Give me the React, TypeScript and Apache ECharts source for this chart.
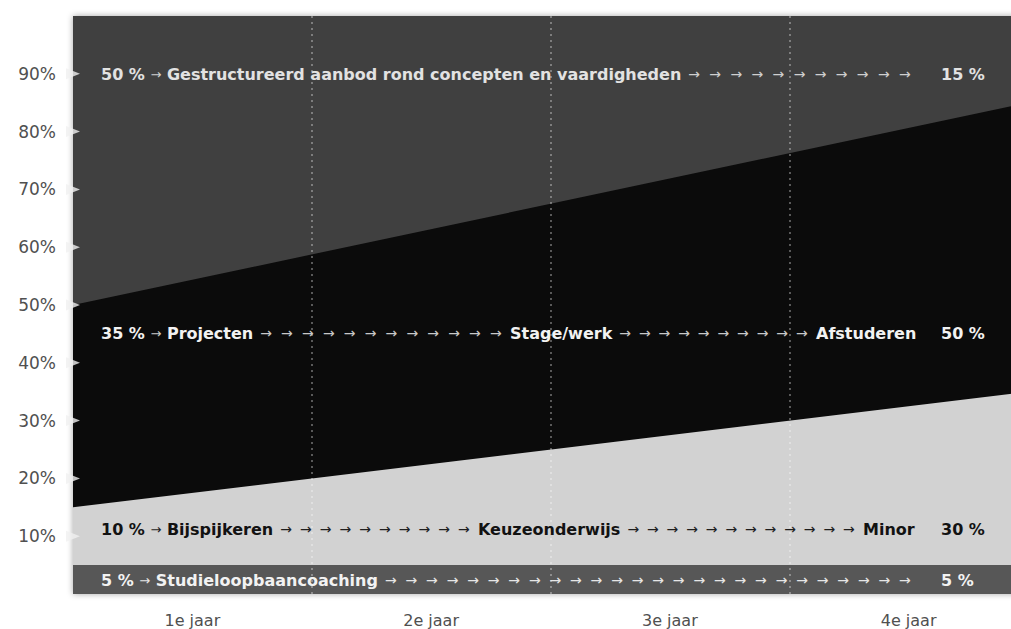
import React, { useEffect, useRef } from "react";
import * as echarts from "echarts";

// ---- data ----
const years = ["1e jaar", "2e jaar", "3e jaar", "4e jaar"];
// layers from bottom to top
const layerSegments = [
  ["Studieloopbaancoaching"],
  ["Bijspijkeren", "Keuzeonderwijs", "Minor"],
  ["Projecten", "Stage/werk", "Afstuderen"],
  ["Gestructureerd aanbod rond concepten en vaardigheden"],
];
const startShare = [5, 10, 35, 50]; // % at start of 1e jaar
const endShare = [5, 30, 50, 15]; // % at end of 4e jaar
const yTicks = [10, 20, 30, 40, 50, 60, 70, 80, 90];

// ---- styling / layout (not data) ----
const layerColors = ["#575757", "#d2d2d2", "#0b0b0b", "#404040"];
const textColors = ["#f2f2f2", "#121212", "#f2f2f2", "#e2e2e2"];
const arrowColors = ["#e6e6e6", "#1e1e1e", "#c8c8c8", "#cfcfcf"];
const rowLayout = [
  { y: 580, segX: [101] },
  { y: 529, segX: [101, 478, 863] },
  { y: 333, segX: [101, 510, 816] },
  { y: 74, segX: [101] },
];
const runEndX = 911;
const endLabelX = 941;
const FONT = '"DejaVu Sans", sans-serif';
const BOLD = `bold 16px ${FONT}`;
const SMALL_ARROW = `normal 13px ${FONT}`;
const RUN_ARROW = `normal 14px ${FONT}`;
const ARROW_W = 12;
const PITCH = 20.5;
const CHART_W = 1040;

function cumulative(arr: number[]) {
  const out: number[] = [];
  let s = 0;
  for (const v of arr) {
    s += v;
    out.push(s);
  }
  return out;
}

let ctx: CanvasRenderingContext2D | null = null;
function measure(text: string, font: string) {
  if (!ctx) ctx = document.createElement("canvas").getContext("2d");
  if (!ctx) return text.length * 10;
  ctx.font = font;
  return ctx.measureText(text).width;
}

function textStyle(text: string, fill: string, font: string, extra: any = {}) {
  return {
    text,
    fill,
    font,
    align: "left",
    verticalAlign: "middle",
    textAlign: "left",
    textVerticalAlign: "middle",
    ...extra,
  };
}

function buildGraphics() {
  const els: any[] = [];
  rowLayout.forEach((row, i) => {
    const segs = layerSegments[i];
    const ends: number[] = [];
    segs.forEach((seg, j) => {
      let width: number;
      let txt: string;
      if (j === 0) {
        const pre = `${startShare[i]} % `;
        const post = ` ${seg}`;
        txt = `${pre}{a|\u2192}${post}`;
        width = measure(pre, BOLD) + measure("\u2192", SMALL_ARROW) + measure(post, BOLD);
      } else {
        txt = seg;
        width = measure(seg, BOLD);
      }
      ends.push(row.segX[j] + width);
      els.push({
        type: "text",
        x: row.segX[j],
        y: row.y,
        z: 100,
        style: textStyle(txt, textColors[i], BOLD, {
          rich: {
            a: {
              fill: arrowColors[i],
              fontSize: 13,
              fontWeight: "normal",
              fontFamily: FONT,
            },
          },
        }),
      });
    });
    segs.forEach((_, j) => {
      const x1 = ends[j] + 7;
      const x2 = j + 1 < segs.length ? row.segX[j + 1] - 8 : runEndX;
      const span = x2 - ARROW_W - x1;
      if (span < 0) return;
      const n = Math.max(1, Math.round(span / PITCH) + 1);
      const step = n > 1 ? span / (n - 1) : 0;
      for (let k = 0; k < n; k++) {
        els.push({
          type: "text",
          x: x1 + k * step,
          y: row.y,
          z: 100,
          style: textStyle("\u2192", arrowColors[i], RUN_ARROW),
        });
      }
    });
    els.push({
      type: "text",
      x: endLabelX,
      y: row.y,
      z: 100,
      style: textStyle(`${endShare[i]} %`, textColors[i], BOLD),
    });
  });
  return els;
}

export default function App() {
  const ref = useRef<HTMLDivElement>(null);
  useEffect(() => {
    if (!ref.current) return;
    const chart = echarts.init(ref.current, null, { renderer: "svg" });
    const cumStart = cumulative(startShare);
    const cumEnd = cumulative(endShare);
    const areaSeries = layerColors
      .map((c, i) => ({
        type: "line",
        name: `layer${i}`,
        xAxisIndex: 1,
        yAxisIndex: 0,
        data: [
          [0, cumStart[i]],
          [1, cumEnd[i]],
        ],
        symbol: "none",
        lineStyle: { width: 0 },
        areaStyle: { color: c, opacity: 1, origin: "start" },
        z: 2,
        silent: true,
      }))
      .reverse();
    chart.setOption({
      animation: false,
      backgroundColor: "#ffffff",
      grid: {
        left: 73,
        top: 16,
        right: CHART_W - 1028,
        height: 578,
        show: true,
        borderWidth: 0,
        backgroundColor: "#404040",
        shadowBlur: 6,
        shadowColor: "rgba(0,0,0,0.35)",
      },
      xAxis: [
        {
          type: "category",
          data: years,
          boundaryGap: true,
          z: 10,
          axisLine: { show: false },
          axisTick: { show: false },
          axisLabel: {
            color: "#505050",
            fontSize: 16,
            fontFamily: FONT,
            margin: 18,
          },
          splitLine: {
            show: true,
            showMinLine: false,
            showMaxLine: false,
            lineStyle: {
              color: "rgba(255,255,255,0.32)",
              width: 2,
              type: [2, 4],
            },
          },
        },
        { type: "value", min: 0, max: 1, show: false },
      ],
      yAxis: {
        type: "value",
        min: 0,
        max: 100,
        interval: 10,
        axisLine: { show: false },
        axisTick: { show: false },
        splitLine: { show: false },
        axisLabel: {
          formatter: "{value}%",
          color: "#505050",
          fontSize: 17,
          fontFamily: FONT,
          margin: 17,
          showMinLabel: false,
          showMaxLabel: false,
        },
      },
      series: [
        ...areaSeries,
        {
          type: "scatter",
          xAxisIndex: 1,
          yAxisIndex: 0,
          data: yTicks.map((v) => [0, v]),
          symbol: "triangle",
          symbolSize: [11, 14],
          symbolRotate: -90,
          itemStyle: { color: "#f0f0f0" },
          clip: false,
          silent: true,
          z: 5,
        },
      ],
      graphic: buildGraphics(),
    });
    return () => chart.dispose();
  }, []);
  return (
    <div
      ref={ref}
      style={{ position: "fixed", left: 0, top: 0, width: CHART_W, height: 629 }}
    />
  );
}
